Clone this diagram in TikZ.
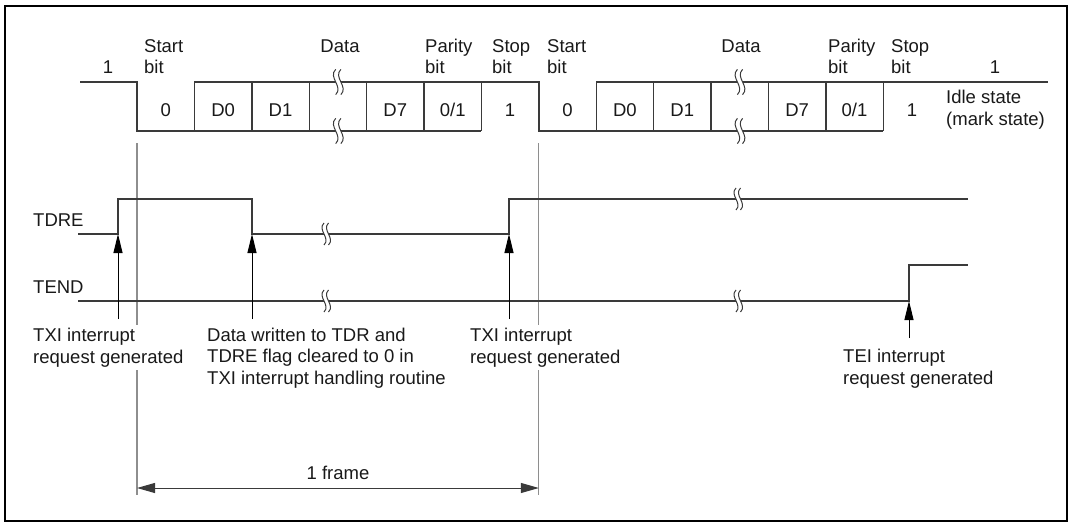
\documentclass[tikz,border=0pt]{standalone}
\usepackage{fontspec}
\setmainfont{Liberation Sans}
\usetikzlibrary{arrows.meta}

\definecolor{wavegray}{HTML}{3A3A3A}
\definecolor{guidegray}{HTML}{8E8E8E}

\tikzset{
  wave/.style={draw=wavegray,line width=1.4pt},
  guide/.style={draw=guidegray,line width=1.2pt},
  irq/.style={draw=black,line width=1pt,-{Triangle[length=19pt,width=9pt]}},
  dim/.style={draw=wavegray,line width=1pt,
    {Triangle[length=18pt,width=10pt]}-{Triangle[length=18pt,width=10pt]}},
  lbl/.style={inner sep=0pt,text=black!90,font=\fontsize{18.5}{21.2}\selectfont},
  mask/.style={fill=white,inner ysep=3pt},
  brk/.pic={
    \fill[white] (-2,-11) .. controls (-9,-4) and (5,4) .. (-2,11)
      -- (2.5,11) .. controls (9.5,4) and (-4.5,-4) .. (2.5,-11) -- cycle;
    \draw[wavegray,line width=1pt] (-2,-11) .. controls (-9,-4) and (5,4) .. (-2,11);
    \draw[wavegray,line width=1pt] (2.5,-11) .. controls (-4.5,-4) and (9.5,4) .. (2.5,11);
  }
}

\begin{document}
\begin{tikzpicture}[x=1pt,y=-1pt,line join=miter]
  \useasboundingbox (0,0) rectangle (1074,527);

  % Outer frame
  \draw[line width=2.2pt] (5,6) rectangle (1067,521);

  % Frame boundaries
  \coordinate (frL) at (137,488);
  \coordinate (frR) at (538.8,488);
  \draw[guide] (137,143) -- (137,495);
  \draw[guide] (538.8,143) -- (538.8,495);

  % Serial data
  \draw[wave] (80,82) -- (137,82) -- (137,131) -- (481.4,131);
  \draw[wave] (194.4,82) -- (538.8,82) -- (538.8,131) -- (883.2,131);
  \draw[wave] (596.2,82) -- (1048,82);
  \foreach \x in {194.4,251.8,309.2,366.6,424,481.4,596.2,653.6,711,768.4,825.8,883.2}
    \draw[wave] (\x,82) -- (\x,131);
  \foreach \x in {338,739.7}{
    \pic[scale=1.15] at (\x,82) {brk};
    \pic[scale=1.15] at (\x,131) {brk};
  }

  % Bit values
  \foreach \x/\t [count=\i] in {165.7/0,223.1/D0,280.5/D1,395.3/D7,452.7/{0/1},510.1/1,
      567.5/0,624.9/D0,682.3/D1,797.1/D7,854.5/{0/1},911.9/1}
    \node[lbl,anchor=base] (bit\i) at (\x,116) {\t};

  % Field names (base = last line)
  \node[lbl,anchor=base] (idleA) at (108,74) {1};
  \node[lbl,anchor=base west,align=left] (startA) at (144,74) {Start\\bit};
  \node[lbl,anchor=base] (dataA) at (340,53) {Data};
  \node[lbl,anchor=base west,align=left] (parA) at (425,74) {Parity\\bit};
  \node[lbl,anchor=base west,align=left] (stopA) at (492,74) {Stop\\bit};
  \node[lbl,anchor=base west,align=left] (startB) at (547,74) {Start\\bit};
  \node[lbl,anchor=base] (dataB) at (741,53) {Data};
  \node[lbl,anchor=base west,align=left] (parB) at (828,74) {Parity\\bit};
  \node[lbl,anchor=base west,align=left] (stopB) at (891,74) {Stop\\bit};
  \node[lbl,anchor=base] (idleB) at (995,74) {1};
  \node[lbl,anchor=base west,align=left] (idle) at (946,125) {Idle state\\(mark state)};

  % Flags
  \node[lbl,anchor=base west] (tdre) at (33,226) {TDRE};
  \node[lbl,anchor=base west] (tend) at (33,293) {TEND};
  \draw[wave] (78,234) -- (118,234) -- (118,199) -- (252,199) -- (252,234)
    -- (509,234) -- (509,199) -- (968,199);
  \draw[wave] (78,301) -- (909,301) -- (909,265) -- (968,265);
  \foreach \x/\y in {326/234,738/199,326/301,738/301}
    \pic at (\x,\y) {brk};

  % Interrupt events
  \coordinate (txiA) at (118,234);
  \coordinate (txiAt) at (118,319);
  \coordinate (wrA) at (252,234);
  \coordinate (wrAt) at (252,319);
  \coordinate (txiB) at (509,234);
  \coordinate (txiBt) at (509,319);
  \coordinate (tei) at (909,301);
  \coordinate (teit) at (909,338);
  \draw[irq] (txiAt) -- (txiA);
  \draw[irq] (wrAt) -- (wrA);
  \draw[irq] (txiBt) -- (txiB);
  \draw[irq] (teit) -- (tei);

  \node[lbl,mask,anchor=base west,align=left] (txiAtxt) at (33,363)
    {TXI interrupt\\request generated};
  \node[lbl,anchor=base west,align=left] (wrtxt) at (207,384)
    {Data written to TDR and\\TDRE flag cleared to 0 in\\TXI interrupt handling routine};
  \node[lbl,mask,anchor=base west,align=left] (txiBtxt) at (470,363)
    {TXI interrupt\\request generated};
  \node[lbl,anchor=base west,align=left] (teitxt) at (843,384)
    {TEI interrupt\\request generated};

  % One frame
  \draw[dim] (frL) -- (frR);
  \node[lbl,anchor=base] (frame) at (338,479) {1 frame};
\end{tikzpicture}
\end{document}
